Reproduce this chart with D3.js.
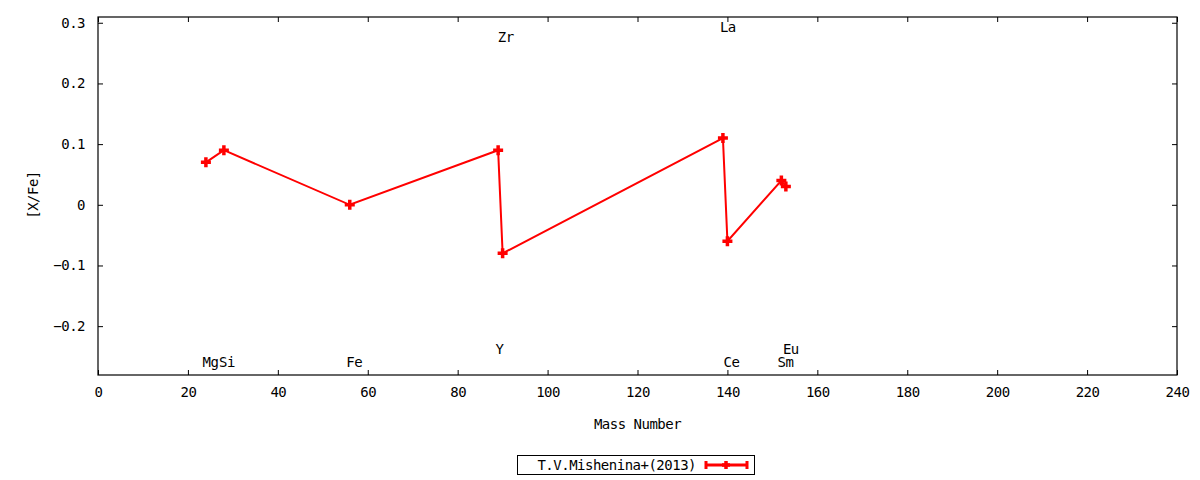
<!DOCTYPE html>
<html lang="en">
<head>
<meta charset="UTF-8">
<title>[X/Fe] vs Mass Number</title>
<script src="https://d3js.org/d3.v7.min.js"></script>
<style>
  body { margin: 0; background: #fff; }
  svg text { font-family: "DejaVu Sans Mono", monospace; font-size: 14px; letter-spacing: -0.5px; fill: #000; }
</style>
</head>
<body>
<svg id="chart" width="1200" height="480"></svg>
<script>
// data
const massNumbers = [24, 28, 56, 89, 90, 139, 140, 152, 153];
const xfeValues   = [0.07, 0.09, 0.0, 0.09, -0.08, 0.11, -0.06, 0.04, 0.03];

const elementNames = ["Mg", "Si", "Fe", "Y", "Zr", "La", "Ce", "Sm", "Eu"];
const elementX     = [25, 28.7, 57, 89.3, 90.7, 140.1, 140.9, 152.9, 154.1];
const elementY     = [-0.26, -0.26, -0.26, -0.237, 0.277, 0.293, -0.26, -0.26, -0.237];

const xTicks = [0, 20, 40, 60, 80, 100, 120, 140, 160, 180, 200, 220, 240];
const yTicks = [-0.2, -0.1, 0, 0.1, 0.2, 0.3];
const seriesName = "T.V.Mishenina+(2013)";

const svg = d3.select("#chart");
const padL = 98, padR = 1177, padT = 17, padB = 375;

let x = d3.scaleLinear().domain([0, 240]).range([padL, padR]);
let y = d3.scaleLinear().domain([-0.2805, 0.3095]).range([padB, padT]);

// axes with inward ticks, mirrored on all sides
svg.append("g").attr("transform", `translate(0,${padB})`)
  .call(d3.axisBottom(x).tickValues(xTicks).tickSizeInner(-5).tickSizeOuter(0).tickPadding(12).tickFormat(d3.format("d")))
  .call(g => g.select(".domain").remove());
svg.append("g").attr("transform", `translate(0,${padT})`)
  .call(d3.axisTop(x).tickValues(xTicks).tickSizeInner(-5).tickSizeOuter(0).tickFormat(""))
  .call(g => g.select(".domain").remove());
svg.append("g").attr("transform", `translate(${padL},0)`)
  .call(d3.axisLeft(y).tickValues(yTicks).tickSizeInner(-5).tickSizeOuter(0).tickPadding(13)
    .tickFormat(d => d === 0 ? "0" : d3.format(".1f")(d)))
  .call(g => g.select(".domain").remove());
svg.append("g").attr("transform", `translate(${padR},0)`)
  .call(d3.axisRight(y).tickValues(yTicks).tickSizeInner(-5).tickSizeOuter(0).tickFormat(""))
  .call(g => g.select(".domain").remove());

svg.selectAll(".tick line").attr("stroke", "#000");
svg.selectAll(".tick text").style("font-family", "DejaVu Sans Mono, monospace").style("font-size", "14px");

svg.append("rect")
  .attr("x", padL).attr("y", padT)
  .attr("width", padR - padL).attr("height", padB - padT)
  .attr("fill", "none").attr("stroke", "#000").attr("stroke-width", 1.2);

// axis titles
svg.append("text")
  .attr("x", (padL + padR) / 2).attr("y", 429)
  .attr("text-anchor", "middle")
  .text("Mass Number");
svg.append("text")
  .attr("transform", "translate(38,195) rotate(-90)")
  .attr("text-anchor", "middle")
  .text("[X/Fe]");

// element labels
svg.selectAll(".elem")
  .data(elementNames)
  .enter()
  .append("text")
  .attr("class", "elem")
  .attr("x", (d, i) => x(elementX[i]))
  .attr("y", (d, i) => y(elementY[i]))
  .attr("dy", "0.35em")
  .attr("text-anchor", "middle")
  .text(d => d);

// series
const points = massNumbers.map((m, i) => [m, xfeValues[i]]);
svg.append("path")
  .datum(points)
  .attr("fill", "none")
  .attr("stroke", "#ff0000")
  .attr("stroke-width", 2)
  .attr("d", d3.line().x(d => x(d[0])).y(d => y(d[1])));

let plus = (cx, cy, r) => `M${cx - r},${cy}H${cx + r}M${cx},${cy - r}V${cy + r}`;
svg.selectAll(".pt")
  .data(points)
  .enter()
  .append("path")
  .attr("class", "pt")
  .attr("d", d => plus(x(d[0]), y(d[1]), 5))
  .attr("stroke", "#ff0000")
  .attr("stroke-width", 3.5)
  .attr("fill", "none");

// legend
const lg = svg.append("g");
lg.append("rect")
  .attr("x", 517.5).attr("y", 455.5).attr("width", 237).attr("height", 19)
  .attr("fill", "none").attr("stroke", "#000");
lg.append("text")
  .attr("x", 696).attr("y", 465).attr("dy", "0.35em")
  .attr("text-anchor", "end")
  .text(seriesName);
lg.append("path")
  .attr("d", "M706,465H747M706,461V469M747,461V469")
  .attr("stroke", "#ff0000").attr("stroke-width", 3).attr("fill", "none");
lg.append("path")
  .attr("d", plus(726, 465, 4))
  .attr("stroke", "#ff0000").attr("stroke-width", 3.5).attr("fill", "none");
</script>
</body>
</html>
